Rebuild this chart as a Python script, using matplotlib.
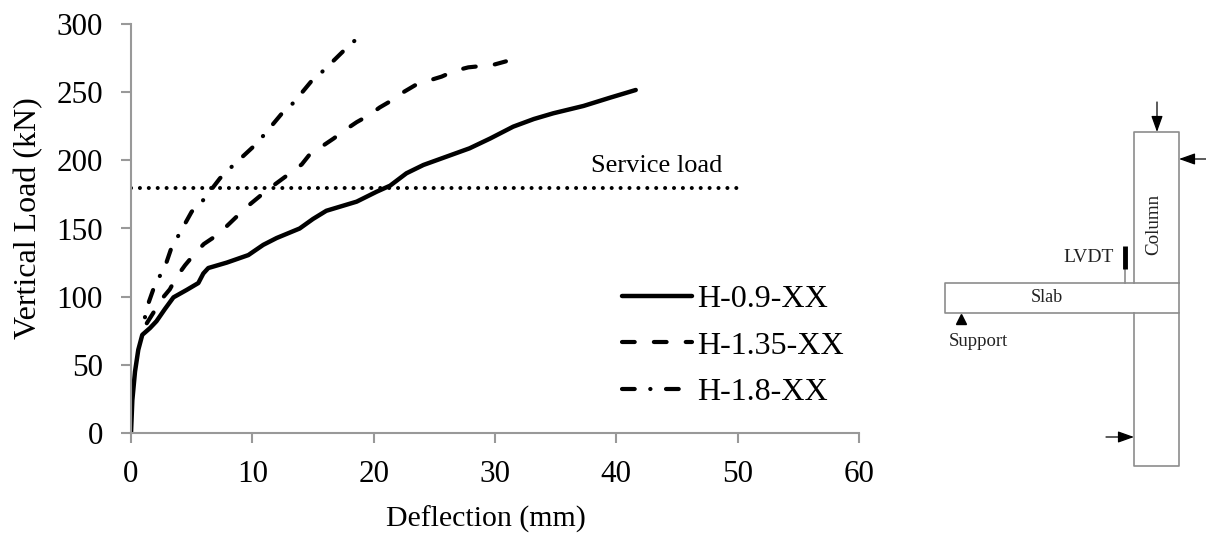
import matplotlib
matplotlib.use("Agg")
import matplotlib.pyplot as plt
from matplotlib.lines import Line2D

plt.rcParams['font.family'] = ['Liberation Serif', 'DejaVu Serif']

# curves
x_09 = [0, 0.11, 0.33, 0.6, 0.93, 1.57, 2.1, 2.8, 3.5, 4.6, 5.55, 5.96, 6.37, 7.9, 9.67, 10.9, 12, 13.9, 15, 16.1, 18.6, 20.25, 21.35, 22.7, 24.1, 27.9, 29.6, 31.5, 33.2, 34.8, 37.3, 39.5, 41.6]
y_09 = [0, 24, 45, 61, 72, 77, 82, 91, 99.5, 105, 110, 117, 121, 125, 130.5, 138, 143, 150, 157, 163, 169.7, 177, 181.4, 190.5, 196.6, 208.8, 216, 224.7, 230.3, 234.5, 239.9, 246, 251.6]
x_135 = [1.3, 1.9, 2.47, 3.2, 3.77, 4.45, 5.2, 6, 6.9, 7.9, 9.5, 11.2, 13.1, 14.07, 14.75, 15.7, 16.7, 17.6, 18.6, 19.6, 20.5, 21.5, 22.45, 23.4, 24.5, 25.6, 26.7, 27.8, 28.9, 30, 30.9]
y_135 = [80.5, 89, 97.6, 105.4, 114.6, 123, 131, 138.6, 144, 151.8, 165.5, 178, 190.5, 197, 204.6, 210, 216, 222, 228, 233, 238.8, 244, 250, 255, 258.4, 261.4, 265.7, 268.2, 269.2, 270.4, 272.6]
x_18 = [1.15, 1.48, 1.84, 2.39, 2.94, 3.3, 3.9, 5, 5.96, 7.33, 8.3, 10.08, 10.9, 12.4, 13.4, 14.9, 15.85, 17.6, 18.5]
y_18 = [84.9, 96.3, 105.4, 115.4, 125.6, 135, 144.7, 162.3, 170.9, 186.8, 195.3, 210, 218, 234, 242.3, 258.4, 265.7, 281, 288.3]
service_x = [0, 50]
service_y = [180, 180]

x_ticks = [0, 10, 20, 30, 40, 50, 60]
y_ticks = [0, 50, 100, 150, 200, 250, 300]

W, H = 1206, 533
fig = plt.figure(figsize=(W / 100, H / 100), dpi=100)

# main chart
ax = fig.add_axes([131 / W, 1 - 433 / H, (859 - 131) / W, (433 - 24) / H])
ax.plot(x_09, y_09, color='black', lw=3.2, solid_capstyle='round', solid_joinstyle='round', label='H-0.9-XX')
ax.plot(x_135, y_135, color='black', lw=3, dashes=(3.05, 4.6), dash_capstyle='round', dash_joinstyle='round', label='H-1.35-XX')
# the curve starts and ends on a dot, the legend sample on a dash
ax.plot(x_18, y_18, color='black', lw=3, ls=(0, (0.05, 3.73, 3.05, 3.73)), dash_capstyle='round', dash_joinstyle='round')
ax.plot(service_x, service_y, color='black', lw=2.9, dashes=(0.01, 2.2), dash_capstyle='round')
ax.text(43.3, 191.5, 'Service load', fontsize=19, ha='center', va='baseline')

ax.set_xlim(0, 60)
ax.set_ylim(0, 300)
ax.set_xticks(x_ticks)
ax.set_yticks(y_ticks)
ax.tick_params(labelsize=22.4, color='#999999', width=1.5, length=7.2)
ax.tick_params(axis='x', pad=12.5)
ax.tick_params(axis='y', pad=13)
ax.spines['top'].set_visible(False)
ax.spines['right'].set_visible(False)
ax.spines['left'].set_color('#999999')
ax.spines['bottom'].set_color('#999999')
ax.spines['left'].set_linewidth(1.5)
ax.spines['bottom'].set_linewidth(1.5)
ax.set_xlabel('Deflection (mm)', fontsize=21.5)
ax.set_ylabel('Vertical Load (kN)', fontsize=23)
ax.xaxis.set_label_coords(0.4876, -0.178)
ax.yaxis.set_label_coords(-0.121, 0.526)

handles, labels = ax.get_legend_handles_labels()
handles.append(Line2D([], [], color='black', lw=3, ls=(0, (3.05, 3.73, 0.05, 3.73)), dash_capstyle='round'))
labels.append('H-1.8-XX')
ax.legend(handles, labels, loc='upper left', bbox_to_anchor=(0.674, 0.362), frameon=False, fontsize=23,
          handlelength=2.19, handletextpad=0.16, labelspacing=0.53, borderpad=0, borderaxespad=0)

# test setup sketch, drawn in pixel coordinates
sk = fig.add_axes([0, 0, 1, 1])
sk.set_xlim(0, W)
sk.set_ylim(H, 0)
sk.axis('off')
sk.patch.set_alpha(0)

gray = '#8c8c8c'
sk.plot([1134, 1134, 1179, 1179], [283, 132, 132, 283], color=gray, lw=1.2)
sk.plot([1134, 1134, 1179, 1179], [313, 466, 466, 313], color=gray, lw=1.2)
sk.plot([1179, 945, 945, 1179, 1179], [283, 283, 313, 313, 283], color=gray, lw=1.2)
sk.plot([1125, 1125], [269, 283], color=gray, lw=1.2)
sk.plot([1125, 1125], [246, 269], color='black', lw=3.5, solid_capstyle='butt')

arrow = dict(arrowstyle='-|>,head_length=0.7,head_width=0.25', color='black', lw=0.9, shrinkA=0, shrinkB=0, mutation_scale=14)
sk.annotate('', xy=(1157, 132), xytext=(1157, 102), arrowprops=arrow)
sk.annotate('', xy=(1179, 159), xytext=(1206, 159), arrowprops=arrow)
sk.annotate('', xy=(1134, 437), xytext=(1106, 437), arrowprops=arrow)
sk.plot([961], [319], marker='^', color='black', ms=7.5, ls='none')

sk.text(1089, 257, 'LVDT', fontsize=14, ha='center', va='center', color='#222222')
sk.text(1047, 298, 'Slab', fontsize=13, ha='center', va='center', color='#222222')
sk.text(978, 341, 'Support', fontsize=13.5, ha='center', va='center', color='#222222')
sk.text(1154, 224, 'Column', fontsize=13.7, ha='center', va='center', rotation=90, color='#222222')

fig.savefig('out.png', dpi=100)
